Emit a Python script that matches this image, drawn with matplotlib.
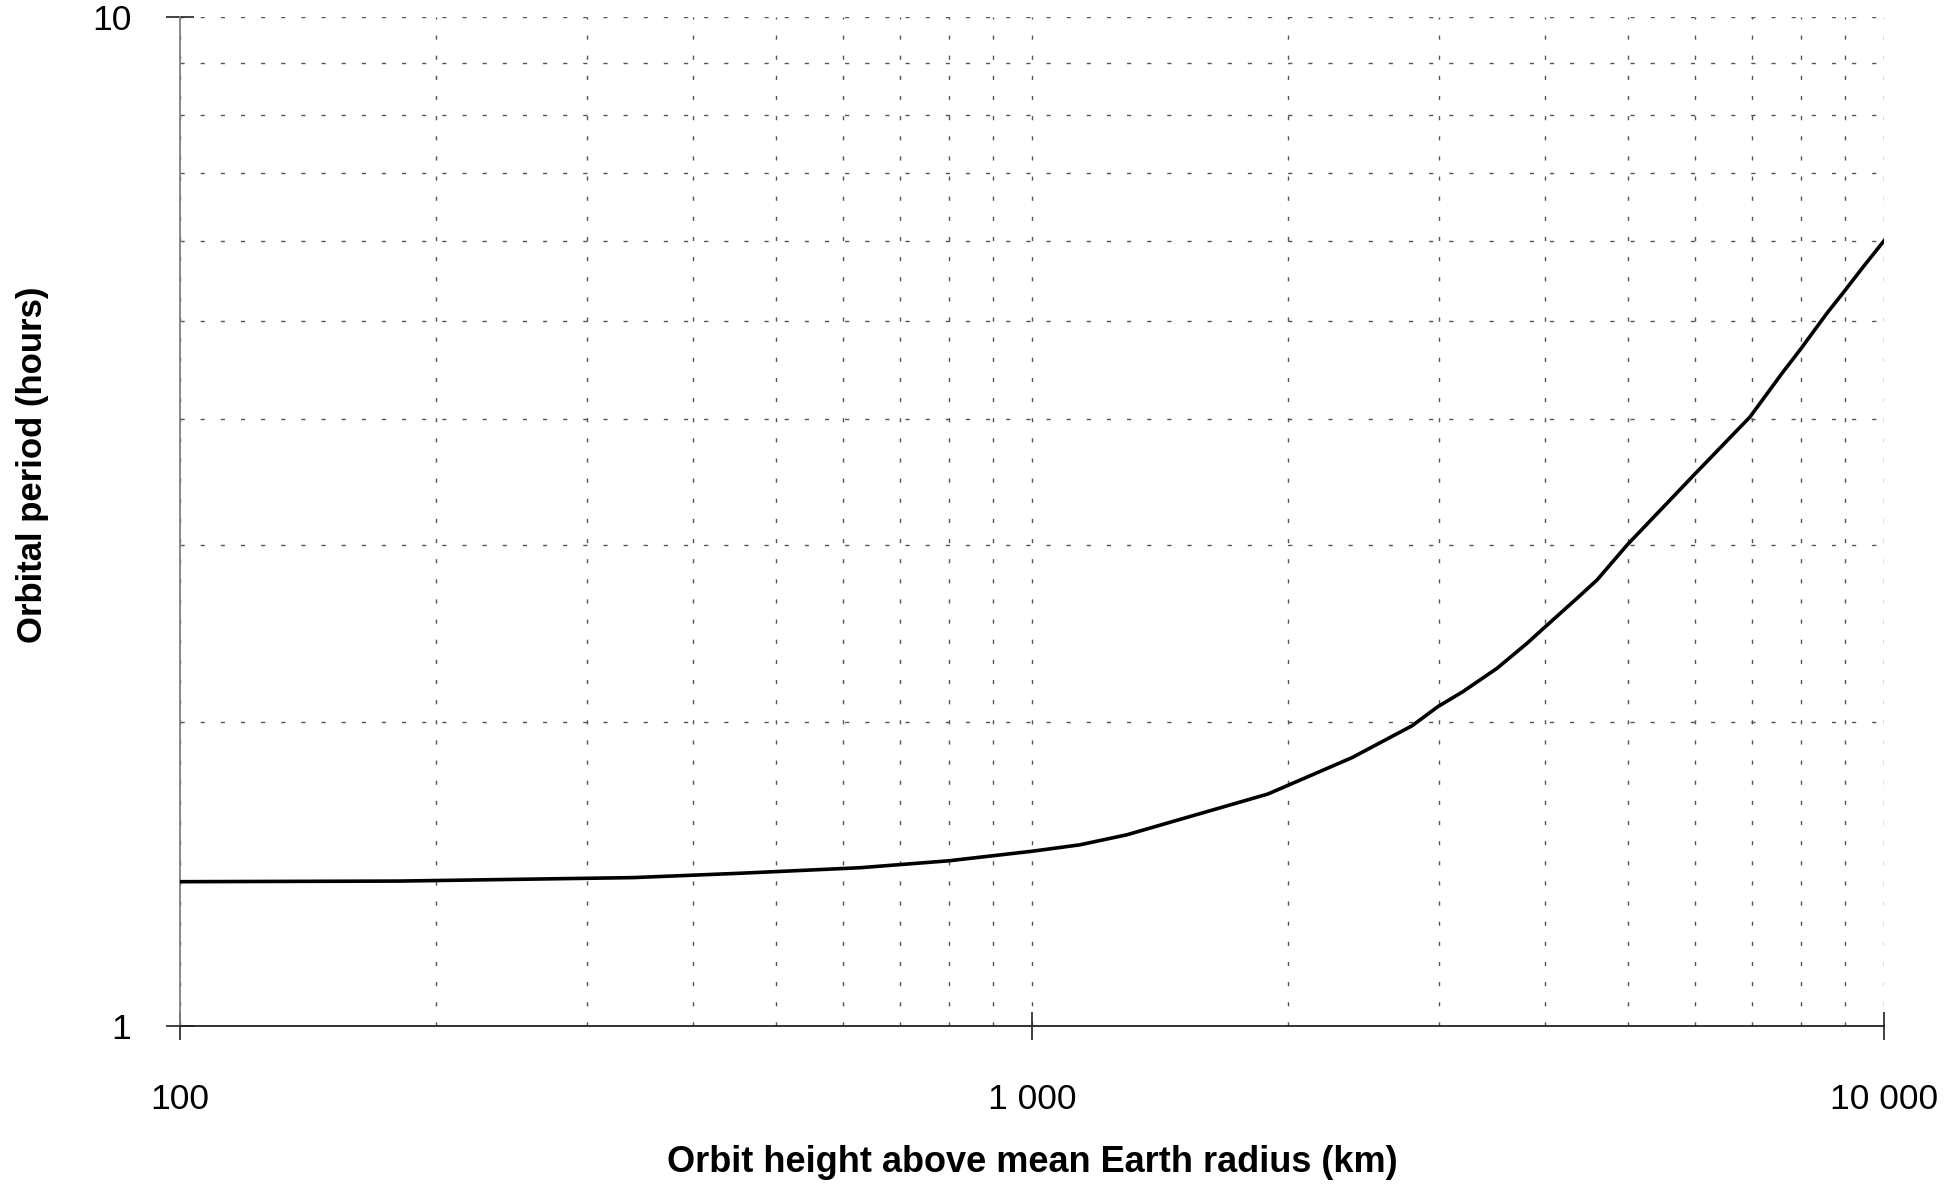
import matplotlib
matplotlib.use('Agg')
import matplotlib.pyplot as plt
from matplotlib.ticker import FixedLocator, FuncFormatter, NullFormatter

plt.rcParams['font.family'] = ['Liberation Sans', 'DejaVu Sans']

# Orbit height (km) and orbital period (hours)
height_km = [100, 181, 340, 454, 628, 799, 1000, 1138, 1292, 1892, 2375, 2793,
             2996, 3205, 3514, 3811, 3978, 4362, 4604, 4994, 5984, 6961, 7611,
             7968, 8575, 8953, 9450, 10000]
period_h = [1.390, 1.392, 1.403, 1.417, 1.435, 1.458, 1.490, 1.512, 1.547,
            1.698, 1.845, 1.984, 2.073, 2.145, 2.262, 2.395, 2.475, 2.654,
            2.767, 2.997, 3.517, 4.014, 4.448, 4.677, 5.089, 5.328, 5.652, 6.0]

x_major = [100, 1000, 10000]
y_major = [1, 10]

fig = plt.figure(figsize=(19.6, 11.86), dpi=100)
ax = fig.add_axes([180 / 1960, 1 - 1026 / 1186, 1704 / 1960, 1009 / 1186])

ax.plot(height_km, period_h, color='black', lw=2.6, zorder=5)

ax.set_xscale('log')
ax.set_yscale('log')
ax.set_xlim(100, 10000)
ax.set_ylim(1, 10)

ax.xaxis.set_major_locator(FixedLocator(x_major))
ax.yaxis.set_major_locator(FixedLocator(y_major))
ax.xaxis.set_major_formatter(FuncFormatter(lambda v, p: f'{int(round(v)):,}'.replace(',', ' ')))
ax.yaxis.set_major_formatter(FuncFormatter(lambda v, p: f'{int(round(v))}'))
ax.xaxis.set_minor_formatter(NullFormatter())
ax.yaxis.set_minor_formatter(NullFormatter())

# dotted grid on every decade subdivision
grid_kw = dict(color='#555555', lw=1.0, dashes=(3, 11.5))
ax.grid(True, which='both', axis='both', **grid_kw)
ax.set_axisbelow(True)

for s in ['top', 'right']:
    ax.spines[s].set_visible(False)
ax.spines['left'].set_color('#808080')
ax.spines['left'].set_linewidth(1.3)
ax.spines['bottom'].set_color('#222222')
ax.spines['bottom'].set_linewidth(1.3)

ax.tick_params(which='major', direction='inout', length=20, width=1.3, color='#333333',
               labelsize=25.5, labelcolor='black')
ax.tick_params(axis='y', which='major', pad=25)
ax.tick_params(axis='x', which='major', pad=31)
ax.tick_params(which='minor', length=0)

ax.set_xlabel('Orbit height above mean Earth radius (km)', fontweight='bold', fontsize=26)
ax.xaxis.set_label_coords(0.5, -0.1348)
ax.xaxis.label.set_va('center')
ax.set_ylabel('Orbital period (hours)', fontweight='bold', fontsize=25)
ax.yaxis.set_label_coords(-0.0863, 0.556)
ax.yaxis.label.set_va('center')
ax.yaxis.label.set_ha('center')

plt.savefig('out.png', dpi=100)
plt.close(fig)
